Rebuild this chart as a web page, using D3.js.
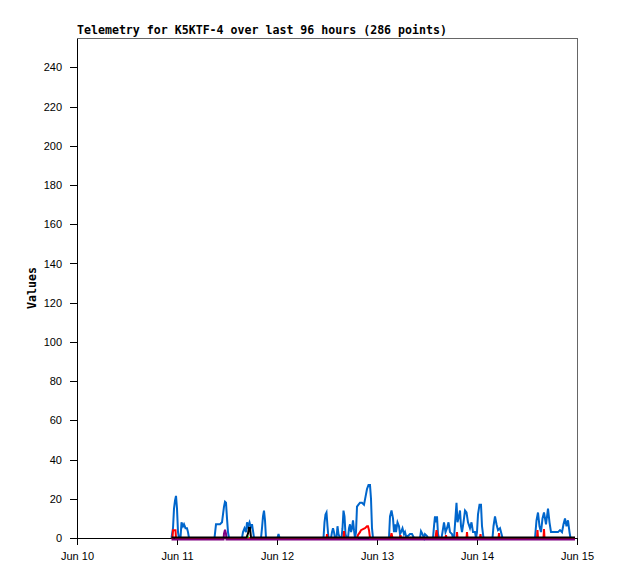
<!DOCTYPE html>
<html><head><meta charset="utf-8">
<script src="https://cdn.jsdelivr.net/npm/d3@7"></script>
<style>
body{margin:0;background:#fff;}
svg{display:block;}
</style></head>
<body>
<script>
// ---- data (time as fractional day of June) ----
const titleText = "Telemetry for K5KTF-4 over last 96 hours (286 points)";
const yLabel = "Values";
const xTickDays = [10, 11, 12, 13, 14, 15];
const yTicks = [0,20,40,60,80,100,120,140,160,180,200,220,240];

const blueDays = [10.945,10.96,10.97,10.98,10.99,11.00,11.01,11.02,11.035,11.045,11.06,11.07,11.085,11.10,11.11,11.12,
 11.375,11.39,11.41,11.43,11.45,11.46,11.47,11.48,11.49,11.50,11.51,11.52,
 11.65,11.66,11.675,11.69,11.70,11.71,11.725,11.74,11.75,11.765,11.77,
 11.84,11.85,11.86,11.87,11.88,11.89,12.005,12.015,12.025,
 12.465,12.475,12.485,12.495,12.505,12.515,12.54,12.55,12.56,12.57,12.58,12.595,12.605,12.615,12.63,
 12.645,12.655,12.665,12.675,12.685,12.695,12.71,12.72,12.73,12.74,12.75,12.76,12.77,12.78,12.79,
 12.80,12.815,12.83,12.85,12.87,12.885,12.90,12.915,12.93,12.94,12.95,12.96,
 13.12,13.13,13.145,13.16,13.17,13.18,13.19,13.205,13.22,13.23,13.24,13.255,13.27,13.28,13.29,13.31,13.33,13.35,13.37,
 13.43,13.44,13.455,13.47,13.48,13.50,13.51,13.56,13.57,13.58,13.59,13.60,13.61,13.62,
 13.645,13.655,13.67,13.685,13.70,13.715,13.73,13.75,13.76,13.77,13.78,13.795,13.805,13.815,13.83,13.84,13.85,
 13.865,13.88,13.895,13.91,13.93,13.945,13.96,13.98,13.99,14.00,14.01,14.025,14.04,14.05,14.065,
 14.155,14.165,14.18,14.195,14.21,14.23,14.245,14.255,
 14.58,14.595,14.61,14.625,14.64,14.655,14.67,14.69,14.71,14.725,14.74,14.75,14.77,14.79,14.81,14.83,14.85,
 14.865,14.88,14.895,14.91,14.925,14.935,14.98];
const blueValues = [0,5,15,19,21.5,15,3,0,0,8,6,7,5,5,3,0,
 0,7,7,7,8,12,16,18.5,18,10,3,0,
 0,3,5,3,8,6,8,5,7,2,0,
 0,5,11,14,9,0,0,2,0,
 0,8,12,13,6,0,0,3,5,3,0,0,6,2,0,
 0,5,14,11,2,0,0,5,7,3,5,9,4,0,3,
 16,17,18,18,17,21,25,27,27,20,5,0,
 0,11,14,10,3,7,3,8,6,2,3,5,2,3,1,1,2,2,0,
 0,3.5,2,0,2,1,0,0,6,11,8,11,2,0,
 0,3,8,3,5,8,3,2,0,0,7,18,8,10,14,6,3,
 8,14,13,8,5,8,3,3,0,3,12,17,17,6,0,
 0,6,11,7,4,5,2,0,
 0,9,13,6,3,10,13,7,15,8,3,3,3,3,3,4,3,
 7,10,6,9,3,0,0];

const redDays = [10.945,10.955,10.96,10.985,10.99,12.495,12.50,12.505,12.665,12.67,12.675,
 12.80,12.81,12.83,12.84,12.86,12.88,12.90,12.91,12.92,12.93,
 13.135,13.145,13.155,13.23,13.235,13.24,13.585,13.595,13.605,13.685,13.69,13.695,
 13.795,13.80,13.805,13.895,13.90,13.905,14.03,14.035,14.04,14.215,14.22,14.225,
 14.60,14.605,14.61,14.665,14.67,14.675,14.98];
const redValues = [0,0,4,4,0,0,2,0,0,3.5,0,
 0,1.5,3,4,4.5,5,6,6,4,0,
 0,2.5,0,0,1.5,0,0,4,0,0,1.5,0,
 0,3,0,0,3,0,0,2,0,0,2.5,0,
 0,4,0,0,4.5,0,0];

const greenDays = [11.70,11.705,11.71];
const greenValues = [0,1,0];

const purpleDays = [10.945,11.465,11.47,11.48,11.49,11.495,14.98];
const purpleValues = [0,0,3,5,3,0,0];

const blackDays = [10.945,11.695,11.71,11.72,11.73,11.74,14.98];
const blackValues = [0,0,2,5,5,0,0];

// ---- helpers ----
const base = new Date(2024, 5, 1);
const toDate = d => new Date(base.getTime() + (d - 1) * 86400000);
const zip = (ds, vs) => ds.map((d, i) => ({t: toDate(d), v: vs[i]}));

const W = 618, H = 579;
const margin = {left: 77, right: 41, top: 38, bottom: 41};
const svg = d3.select("body").append("svg").attr("width", W).attr("height", H);

const x = d3.scaleTime().domain([toDate(10), toDate(15)]).range([margin.left, W - margin.right]);
const y = d3.scaleLinear().domain([0, 255]).range([H - margin.bottom, margin.top]);

// frame top/right
svg.append("line").attr("x1", x.range()[0]).attr("x2", x.range()[1]).attr("y1", y(255)).attr("y2", y(255))
  .attr("stroke", "#666").attr("stroke-width", 1).attr("shape-rendering", "crispEdges");
svg.append("line").attr("x1", x.range()[1]).attr("x2", x.range()[1]).attr("y1", y(255)).attr("y2", y(0))
  .attr("stroke", "#666").attr("stroke-width", 1).attr("shape-rendering", "crispEdges");

// axes
const xAxis = svg.append("g").attr("transform", `translate(0,${y(0)})`)
  .call(d3.axisBottom(x).tickValues(xTickDays.map(toDate)).tickFormat(d3.timeFormat("%b %d"))
    .tickSize(7).tickSizeOuter(0).tickPadding(7));
const yAxis = svg.append("g").attr("transform", `translate(${x.range()[0]},0)`)
  .call(d3.axisLeft(y).tickValues(yTicks).tickSize(7).tickSizeOuter(0).tickPadding(8));
[xAxis, yAxis].forEach(g => {
  g.selectAll("path,line").attr("stroke", "#000").attr("shape-rendering", "crispEdges");
  g.selectAll("text").attr("font-family", "'Liberation Sans', Arial, sans-serif").attr("font-size", 11).attr("fill", "#000");
});

// series
const line = d3.line().x(d => x(d.t)).y(d => y(d.v));
const series = [
  {data: zip(blueDays, blueValues), color: "#0066cc", w: 2, dy: 0},
  {data: zip(redDays, redValues), color: "#ff0000", w: 2, dy: 0},
  {data: zip(greenDays, greenValues), color: "#00cc00", w: 2, dy: 0},
  {data: zip(purpleDays, purpleValues), color: "#800080", w: 2, dy: 1.5},
  {data: zip(blackDays, blackValues), color: "#000000", w: 2, dy: -0.5}
];
series.forEach(s => {
  svg.append("path").datum(s.data).attr("d", line)
    .attr("transform", `translate(0,${s.dy})`)
    .attr("fill", "none").attr("stroke", s.color).attr("stroke-width", s.w)
    .attr("stroke-linejoin", "miter");
});

// title
svg.append("text").attr("x", margin.left).attr("y", 34)
  .attr("font-family", "'DejaVu Sans Mono', monospace").attr("font-weight", "bold").attr("font-size", 11.6)
  .attr("fill", "#000").text(titleText);

// y label
svg.append("text").attr("transform", `translate(36,${(y(0) + y(255)) / 2}) rotate(-90)`)
  .attr("text-anchor", "middle")
  .attr("font-family", "'DejaVu Sans Mono', monospace").attr("font-weight", "bold").attr("font-size", 11.6)
  .attr("fill", "#000").text(yLabel);
</script>
</body></html>
